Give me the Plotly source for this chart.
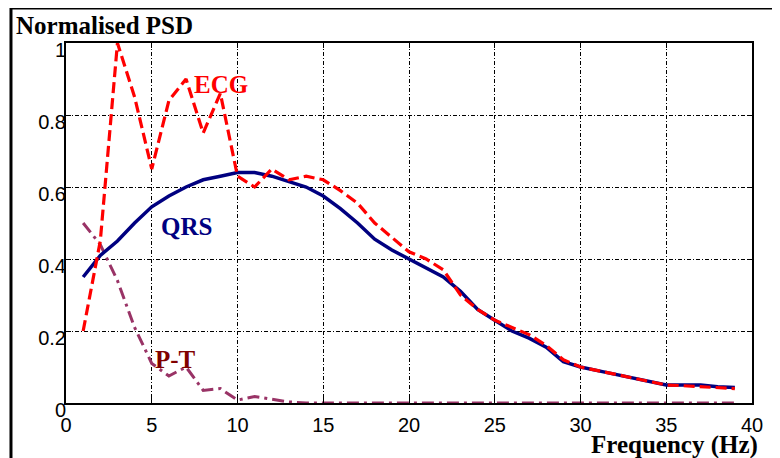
import plotly.graph_objects as go

freq = list(range(1, 40))
ecg = [0.20, 0.45, 1.00, 0.85, 0.65, 0.84, 0.90, 0.75, 0.86, 0.63,
       0.60, 0.65, 0.62, 0.63, 0.62, 0.59, 0.555, 0.50, 0.46, 0.42,
       0.40, 0.37, 0.30, 0.26, 0.23, 0.21, 0.19, 0.16, 0.12, 0.10,
       0.09, 0.08, 0.07, 0.06, 0.05, 0.048, 0.045, 0.043, 0.04]
qrs = [0.35, 0.41, 0.45, 0.50, 0.545, 0.575, 0.60, 0.62, 0.63, 0.64,
       0.64, 0.63, 0.615, 0.60, 0.575, 0.54, 0.50, 0.455, 0.425, 0.40,
       0.375, 0.35, 0.31, 0.26, 0.23, 0.20, 0.18, 0.155, 0.115, 0.10,
       0.09, 0.08, 0.07, 0.06, 0.05, 0.05, 0.05, 0.045, 0.043]
pt = [0.50, 0.44, 0.34, 0.21, 0.11, 0.075, 0.10, 0.035, 0.04, 0.008,
      0.018, 0.01, 0.003] + [0.0] * 26

labels = ["ECG", "QRS", "P-T"]
label_x = [9.05, 7.0, 6.4]
label_y = [0.885, 0.49, 0.12]
label_colors = ["#ff0000", "#000080", "#800000"]

fig = go.Figure()
fig.add_trace(go.Scatter(x=freq, y=pt, mode="lines",
                         line=dict(color="#993366", width=3, dash="12px,5px,3px,5px")))
fig.add_trace(go.Scatter(x=freq, y=qrs, mode="lines",
                         line=dict(color="#000080", width=3.5)))
fig.add_trace(go.Scatter(x=freq, y=ecg, mode="lines",
                         line=dict(color="#ff0000", width=3.2, dash="11px,5px")))

for t, x, y, c in zip(labels, label_x, label_y, label_colors):
    fig.add_annotation(x=x, y=y, xref="x", yref="y", text="<b>%s</b>" % t,
                       showarrow=False,
                       font=dict(family="Liberation Serif", size=25, color=c))

fig.add_annotation(x=-0.076, y=1.048, xref="paper", yref="paper",
                   text="<b>Normalised PSD</b>", showarrow=False,
                   xanchor="left", yanchor="middle",
                   font=dict(family="Liberation Serif", size=25, color="black"))
fig.add_annotation(x=1.011, y=-0.118, xref="paper", yref="paper",
                   text="<b>Frequency (Hz)</b>", showarrow=False,
                   xanchor="right", yanchor="middle",
                   font=dict(family="Liberation Serif", size=25, color="black"))

# outer frame (left and top)
fig.add_shape(type="line", xref="paper", yref="paper",
              x0=-0.0802, y0=1.0972, x1=1.1, y1=1.0972,
              line=dict(color="black", width=3))
fig.add_shape(type="line", xref="paper", yref="paper",
              x0=-0.0802, y0=1.0972, x1=-0.0802, y1=-0.2,
              line=dict(color="black", width=3))

axis_common = dict(showline=True, linecolor="black", linewidth=2, mirror="ticks",
                   ticks="inside", ticklen=5, tickcolor="black",
                   showgrid=True, gridcolor="black", gridwidth=1.2,
                   griddash="4px,2px,1px,2px", zeroline=False,
                   tickfont=dict(family="Liberation Sans", size=20, color="black"))

fig.update_xaxes(range=[0, 40], dtick=5, tick0=0, ticklabelstandoff=3, **axis_common)
fig.update_yaxes(range=[0, 1], dtick=0.2, tick0=0, ticklabelstandoff=-6,
                 ticklabelshift=7, **axis_common)

# page body has an 8px margin, so the figure is sized/offset to compensate
fig.update_layout(width=772, height=450, showlegend=False,
                  margin=dict(l=58, r=28, t=35, b=55),
                  plot_bgcolor="white", paper_bgcolor="white")

fig.write_html("out.html")
